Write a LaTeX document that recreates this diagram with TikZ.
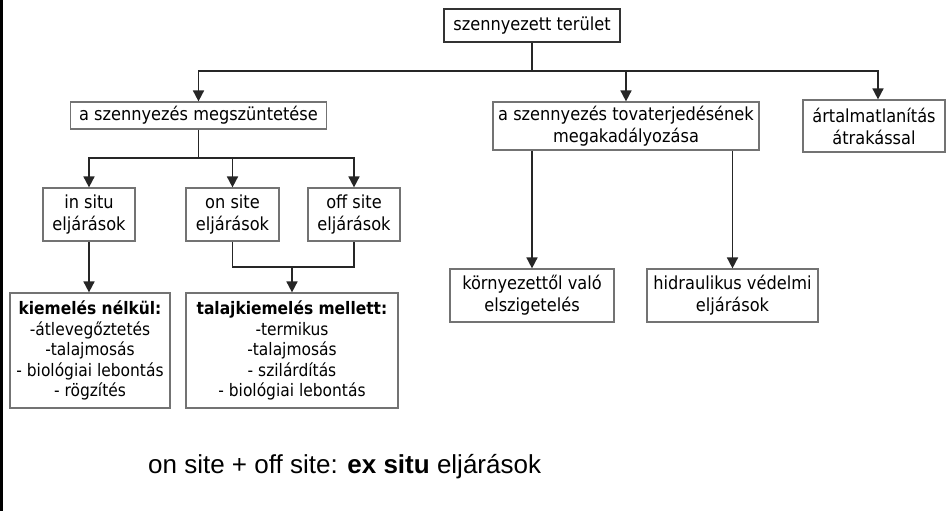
\documentclass[tikz,border=0pt]{standalone}
\usepackage{fontspec}
\setmainfont{DejaVu Sans Condensed}
\newfontfamily\arialfont{Liberation Sans}
\usetikzlibrary{arrows.meta}

\tikzset{
  box/.style={draw=black!55, line width=1.2pt, align=center, inner sep=0pt,
    font=\fontsize{18}{22}\selectfont},
  conn/.style={draw=black!85, line width=1.7pt},
  arr/.style={conn, -{Triangle[length=11pt,width=11pt]}},
}

\begin{document}
\begin{tikzpicture}[x=1pt,y=-1pt]
  % 画布大小
  \useasboundingbox (0,0) rectangle (946,511);
  \draw[line width=3pt] (1.5,0) -- (1.5,511);

  % 第一层
  \node[box, draw=black!80, minimum width=176, minimum height=33] (terulet) at (532,25.5) {szennyezett terület};
  \node[box, minimum width=256, minimum height=27] (megsz) at (198.5,115.5) {a szennyezés megszüntetése};
  \node[box, minimum width=266, minimum height=48] (tova) at (626,126) {a szennyezés tovaterjedésének\\megakadályozása};
  \node[box, minimum width=142, minimum height=52] (artal) at (874,126) {ártalmatlanítás\\átrakással};

  % 第二层
  \node[box, minimum width=92, minimum height=53] (insitu) at (89,214.5) {in situ\\eljárások};
  \node[box, minimum width=93, minimum height=53] (onsite) at (232.5,214.5) {on site\\eljárások};
  \node[box, minimum width=92, minimum height=53] (offsite) at (354,214.5) {off site\\eljárások};
  \node[box, minimum width=164, minimum height=53] (korny) at (532,295.5) {környezettől való\\elszigetelés};
  \node[box, minimum width=171, minimum height=53] (hidr) at (732.5,295.5) {hidraulikus védelmi\\eljárások};

  % 第三层
  \node[box, minimum width=160, minimum height=115, font=\fontsize{17.2}{20.5}\selectfont] (kiem) at (90,350.5)
    {\textbf{kiemelés nélkül:}\\-átlevegőztetés\\-talajmosás\\- biológiai lebontás\\- rögzítés};
  \node[box, minimum width=212, minimum height=115, font=\fontsize{17.2}{20.5}\selectfont] (talaj) at (292,350.5)
    {\textbf{talajkiemelés mellett:}\\-termikus\\-talajmosás\\- szilárdítás\\- biológiai lebontás};

  % 说明文字
  \node[anchor=base west, inner sep=0pt, font=\arialfont\fontsize{26}{30}\selectfont] (exsitu) at (148,473)
    {on site + off site: \textbf{ex situ} eljárások};

  % 连线
  \coordinate (b1) at (532,71);
  \coordinate (b2) at (198.5,158);
  \coordinate (j) at (292,267);
  \draw[conn] (terulet) -- (b1);
  \draw[arr] (b1) -| (megsz);
  \draw[arr] (b1) -| (tova);
  \draw[arr] (b1) -| ([xshift=4]artal.north);
  \draw[conn] (megsz) -- (b2);
  \draw[arr] (b2) -| (insitu);
  \draw[arr] (b2) -| (onsite);
  \draw[arr] (b2) -| (offsite);
  \draw[arr] (insitu.south) -- (insitu.south |- kiem.north);
  \draw[conn] (onsite.south) |- (j) -| (offsite.south);
  \draw[arr] (j) -- (talaj);
  \draw[arr] (korny.north |- tova.south) -- (korny.north);
  \draw[arr] (hidr.north |- tova.south) -- (hidr.north);
\end{tikzpicture}
\end{document}
